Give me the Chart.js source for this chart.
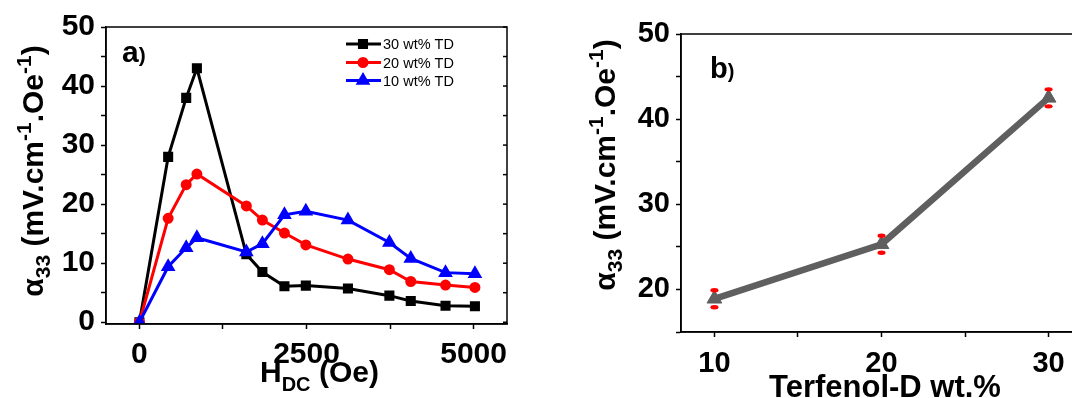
<!DOCTYPE html>
<html>
<head>
<meta charset="utf-8">
<script src="https://cdn.jsdelivr.net/npm/chart.js@4.4.1/dist/chart.umd.min.js"></script>
<style>
  html, body { margin: 0; padding: 0; background: #fff; overflow: hidden; }
  #wrapA { position: absolute; left: 0; top: 0; width: 530px; height: 398px; }
  #wrapB { position: absolute; left: 560px; top: 0; width: 540px; height: 398px; }
</style>
</head>
<body>
<div id="wrapA"><canvas id="chartA"></canvas></div>
<div id="wrapB"><canvas id="chartB"></canvas></div>
<script>
// panel a) : alpha_33 vs H_DC
const hdcField = [0, 430, 700, 860, 1600, 1840, 2170, 2490, 3120, 3740, 4060, 4580, 5020];
const td30 = [0, 28.0, 38.0, 43.0, 11.5, 8.5, 6.1, 6.2, 5.7, 4.5, 3.6, 2.8, 2.7];
const td20 = [0, 17.6, 23.3, 25.1, 19.7, 17.3, 15.1, 13.1, 10.7, 8.9, 6.9, 6.3, 5.9];
const td10 = [0, 9.4, 12.6, 14.3, 11.9, 13.3, 18.2, 18.8, 17.3, 13.5, 10.8, 8.4, 8.2];
const legendLabels = ['30 wt% TD', '20 wt% TD', '10 wt% TD'];
const hdcTicks = [0, 1250, 2500, 3750, 5000];
const alphaTicksA = [0, 5, 10, 15, 20, 25, 30, 35, 40, 45, 50];

// panel b) : max alpha_33 vs Terfenol-D content
const tdWt = [10, 20, 30];
const alphaMax = [18.9, 25.3, 42.5];
const alphaErr = [1.0, 1.0, 1.0];
const wtTicks = [10, 15, 20, 25, 30];
const alphaTicksB = [15, 20, 25, 30, 35, 40, 45, 50];

const FONT = '"Liberation Sans", Arial, sans-serif';
Chart.defaults.font.family = FONT;
Chart.defaults.color = '#000';

function toXY(xs, ys) {
  return xs.map((x, i) => ({ x: x, y: ys[i] }));
}

// draws text made of pieces with their own size and vertical shift
function richText(ctx, parts, x, y, angle, align) {
  ctx.save();
  ctx.translate(x, y);
  ctx.rotate(angle);
  ctx.fillStyle = '#000';
  ctx.textBaseline = 'alphabetic';
  ctx.textAlign = 'left';
  let total = 0;
  parts.forEach(p => {
    ctx.font = 'bold ' + p.size + 'px ' + FONT;
    p.w = ctx.measureText(p.t).width;
    total += p.w;
  });
  let cx = align == 'center' ? -total / 2 : 0;
  parts.forEach(p => {
    ctx.font = 'bold ' + p.size + 'px ' + FONT;
    ctx.fillText(p.t, cx, -(p.shift || 0));
    cx += p.w;
  });
  ctx.restore();
}

const yTitleParts = () => [
  { t: '\u03b1', size: 30 },
  { t: '33', size: 21, shift: -7 },
  { t: ' (mV.cm', size: 30 },
  { t: '-1', size: 21, shift: 12 },
  { t: '.Oe', size: 30 },
  { t: '-1', size: 21, shift: 12 },
  { t: ')', size: 30 }
];

function axisOpts(min, max, tickVals, labelEvery, tickFont, pad) {
  return {
    type: 'linear',
    min: min,
    max: max,
    afterBuildTicks: s => { s.ticks = tickVals.map(v => ({ value: v })); },
    grid: { drawOnChartArea: false, tickLength: 5, color: '#000', tickWidth: 1.5 },
    border: { color: '#000', width: 1.5 },
    ticks: {
      autoSkip: false,
      maxRotation: 0,
      padding: pad,
      font: { size: tickFont, weight: 'bold' },
      color: '#000',
      callback: v => (Math.abs(v % labelEvery) < 1e-9 ? String(v) : '')
    }
  };
}

const panelA = {
  id: 'panelA',
  afterDatasetsDraw(chart) {
    const ctx = chart.ctx;
    const a = chart.chartArea;
    const ys = chart.scales.y;
    ctx.save();
    ctx.strokeStyle = '#000';
    ctx.lineWidth = 1.5;
    ctx.strokeRect(a.left, a.top, a.right - a.left, a.bottom - a.top);
    // inward ticks on the right side
    ys.ticks.forEach(t => {
      const py = ys.getPixelForValue(t.value);
      ctx.beginPath();
      ctx.moveTo(a.right, py);
      ctx.lineTo(a.right - 4, py);
      ctx.stroke();
    });
    // legend
    const rows = [44, 62.5, 80.5];
    const styles = [
      { c: '#000000', p: 'rect', r: 5 },
      { c: '#ff0000', p: 'circle', r: 4 },
      { c: '#0000ff', p: 'triangle', r: 5.5 }
    ];
    rows.forEach((ry, i) => {
      ctx.strokeStyle = styles[i].c;
      ctx.fillStyle = styles[i].c;
      ctx.lineWidth = 3;
      ctx.beginPath();
      ctx.moveTo(346, ry);
      ctx.lineTo(381, ry);
      ctx.stroke();
      Chart.helpers.drawPoint(ctx, { pointStyle: styles[i].p, radius: styles[i].r, borderWidth: 1 }, 363, ry);
      ctx.fill();
      ctx.fillStyle = '#000';
      ctx.font = '14.5px ' + FONT;
      ctx.textBaseline = 'middle';
      ctx.fillText(legendLabels[i], 383, ry + 1);
    });
    ctx.restore();
    richText(ctx, [{ t: 'a', size: 30 }, { t: ')', size: 21 }], 122, 62, 0, 'left');
    richText(ctx, yTitleParts(), 43, 171, -Math.PI / 2, 'center');
    richText(ctx, [{ t: 'H', size: 30 }, { t: 'DC', size: 20, shift: -9 }, { t: ' (Oe)', size: 30 }], 260, 382, 0, 'left');
  }
};

const panelB = {
  id: 'panelB',
  afterDatasetsDraw(chart) {
    const ctx = chart.ctx;
    const a = chart.chartArea;
    const xs = chart.scales.x, ys = chart.scales.y;
    ctx.save();
    ctx.strokeStyle = '#000';
    ctx.lineWidth = 1.5;
    ctx.strokeRect(a.left, a.top, a.right - a.left, a.bottom - a.top);
    // error caps
    ctx.fillStyle = '#ff0000';
    tdWt.forEach((w, i) => {
      const px = xs.getPixelForValue(w);
      [alphaMax[i] + alphaErr[i], alphaMax[i] - alphaErr[i]].forEach(v => {
        ctx.beginPath();
        ctx.ellipse(px, ys.getPixelForValue(v), 4, 2.2, 0, 0, Math.PI * 2);
        ctx.fill();
      });
    });
    ctx.restore();
    richText(ctx, [{ t: 'b', size: 29 }, { t: ')', size: 20 }], 150, 78, 0, 'left');
    richText(ctx, yTitleParts(), 55, 165, -Math.PI / 2, 'center');
    richText(ctx, [{ t: 'Terfenol-D wt.%', size: 31 }], 209, 397, 0, 'left');
  }
};

const xA = axisOpts(-500, 5500, hdcTicks, 2500, 30, 8);
xA.afterFit = s => { s.height = 74; };
const yA = axisOpts(-0.3, 50, alphaTicksA, 10, 30, 6);
yA.afterFit = s => { s.width = 106; };

new Chart(document.getElementById('chartA'), {
  type: 'line',
  data: {
    datasets: [
      { label: legendLabels[0], data: toXY(hdcField, td30), borderColor: '#000000', backgroundColor: '#000000',
        borderWidth: 3, pointStyle: 'rect', pointRadius: 5, order: 3 },
      { label: legendLabels[1], data: toXY(hdcField, td20), borderColor: '#ff0000', backgroundColor: '#ff0000',
        borderWidth: 3, pointStyle: 'circle', pointRadius: 4, order: 2 },
      { label: legendLabels[2], data: toXY(hdcField, td10), borderColor: '#0000ff', backgroundColor: '#0000ff',
        borderWidth: 3, pointStyle: 'triangle', pointRadius: 5.5, order: 1 }
    ]
  },
  options: {
    responsive: true,
    maintainAspectRatio: false,
    animation: false,
    layout: { padding: { top: 27, right: 23, left: 0, bottom: 0 } },
    plugins: { legend: { display: false }, tooltip: { enabled: false } },
    scales: { x: xA, y: yA }
  },
  plugins: [panelA]
});

const xB = axisOpts(8, 32, wtTicks, 10, 29, 10);
xB.afterFit = s => { s.height = 66; };
const yB = axisOpts(15, 50, alphaTicksB, 10, 29, 6);
yB.afterFit = s => { s.width = 121; };

new Chart(document.getElementById('chartB'), {
  type: 'line',
  data: {
    datasets: [
      { label: 'alpha max', data: toXY(tdWt, alphaMax), borderColor: '#5f5f5f', backgroundColor: '#5f5f5f',
        borderWidth: 6.5, pointStyle: 'triangle', pointRadius: 8.5, pointBorderWidth: 1 }
    ]
  },
  options: {
    responsive: true,
    maintainAspectRatio: false,
    animation: false,
    layout: { padding: { top: 34, right: 18, left: 0, bottom: 0 } },
    plugins: { legend: { display: false }, tooltip: { enabled: false } },
    scales: { x: xB, y: yB }
  },
  plugins: [panelB]
});
</script>
</body>
</html>
